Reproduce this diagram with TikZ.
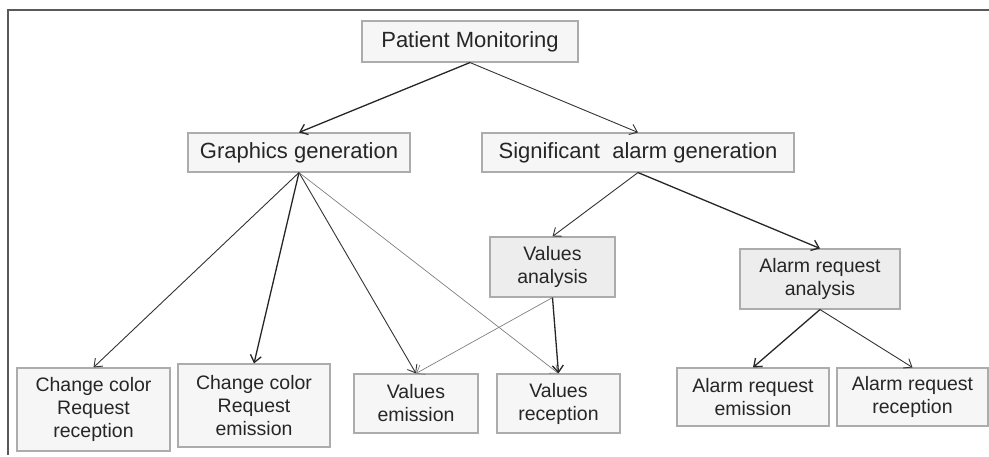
\documentclass[tikz,border=0pt]{standalone}
\usepackage{fontspec}
\setmainfont{Liberation Sans}
\usetikzlibrary{arrows.meta}
\begin{document}
\begin{tikzpicture}[x=1pt,y=-1pt,
  box/.style={draw=gray!65, line width=1.1pt, fill=gray!7, inner sep=0pt, align=center, text=black!85},
  boxd/.style={box, fill=gray!14},
  big/.style={font=\fontsize{22}{26}\selectfont},
  small/.style={font=\fontsize{19.5}{23}\selectfont},
  link/.style={-{Straight Barb[length=7pt,width=11pt]}, line width=0.9pt, draw=black!80},
  linkd/.style={link, line width=1.3pt, draw=black!85},
  linkl/.style={link, line width=0.7pt, draw=black!50},
  frame/.style={draw=black!65, line width=1.5pt}]
\useasboundingbox (0,0) rectangle (989,457);
\draw[frame] (989,10) -- (8,10) -- (8,455);
\node[box,big,minimum width=216pt,minimum height=41pt] (pm) at (470,41.5) {Patient Monitoring};
\node[box,big,minimum width=222pt,minimum height=39pt] (gg) at (299,152.5) {Graphics generation};
\node[box,big,minimum width=312pt,minimum height=39pt] (sag) at (638,152.5) {Significant\ \ alarm generation};
\node[boxd,small,minimum width=125pt,minimum height=60pt] (va) at (552.5,267) {Values\\analysis};
\node[boxd,small,minimum width=160pt,minimum height=60pt] (ara) at (820,279) {Alarm request\\analysis};
\node[box,small,minimum width=152pt,minimum height=58pt] (are) at (753,397) {Alarm request\\emission};
\node[box,small,minimum width=151pt,minimum height=58pt] (arr) at (912.5,397) {Alarm request\\reception};
\node[box,small,minimum width=123pt,minimum height=59pt] (vr) at (558.5,403.5) {Values\\reception};
\node[box,small,minimum width=124pt,minimum height=59pt] (ve) at (416,403.5) {Values\\emission};
\node[box,small,minimum width=152pt,minimum height=83pt] (ccre) at (254,405.5) {Change color\\Request\\emission};
\node[box,small,minimum width=153pt,minimum height=83pt] (ccrr) at (93.5,409.5) {Change color\\Request\\reception};
\draw[linkd] (pm.south) -- (gg.north);
\draw[link] (pm.south) -- (sag.north);
\draw[link] (gg.south) -- (ccrr.north);
\draw[linkd] (gg.south) -- (ccre.north);
\draw[link] (gg.south) -- (ve.north);
\draw[linkl] (gg.south) -- (vr.north);
\draw[link] (sag.south) -- (va.north);
\draw[linkd] (sag.south) -- (ara.north);
\draw[linkl] (va.south) -- (ve.north);
\draw[linkd] (va.south) -- (vr.north);
\draw[linkd] (ara.south) -- (are.north);
\draw[link] (ara.south) -- (arr.north);
\end{tikzpicture}
\end{document}
